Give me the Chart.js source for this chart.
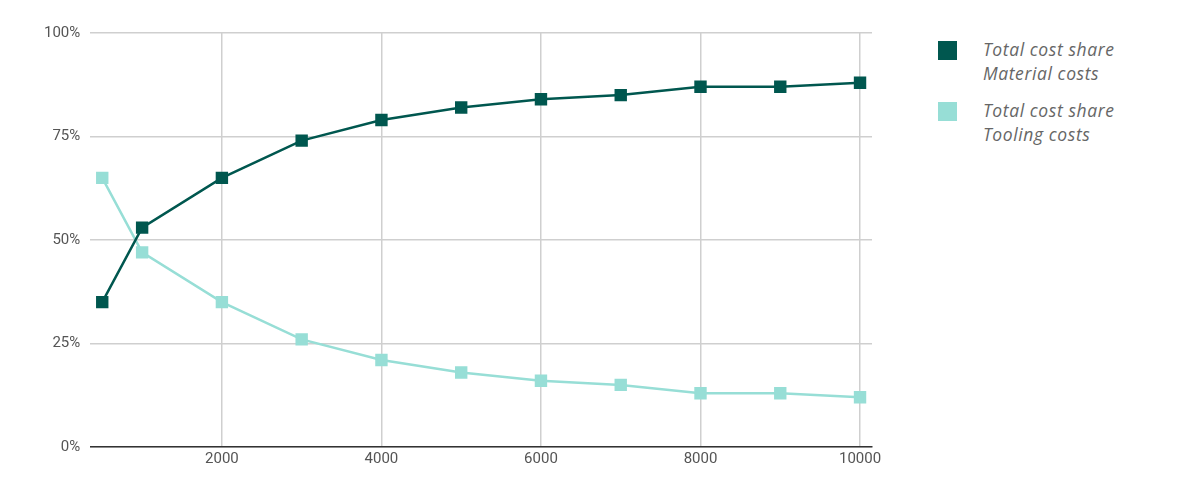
<!DOCTYPE html>
<html>
<head>
<meta charset="utf-8">
<script src="https://cdn.jsdelivr.net/npm/chart.js@4"></script>
<style>
  body { margin: 0; background: #fff; }
  #wrap { position: relative; width: 1190px; height: 499px; }
  #chartBox { position: absolute; left: 0; top: 0; width: 900px; height: 499px; }
  #legend { position: absolute; left: 938px; top: 37px; font-family: "Open Sans", sans-serif; font-style: italic; font-size: 17.5px; letter-spacing: 0.6px; color: #666; }
  .item { display: flex; align-items: flex-start; margin-bottom: 13px; line-height: 24px; }
  .swatch { width: 19px; height: 19px; margin-right: 26px; margin-top: 4px; flex: none; }
</style>
</head>
<body>
<div id="wrap">
  <div id="chartBox"><canvas id="costChart"></canvas></div>
  <div id="legend">
    <div class="item"><div class="swatch" style="background:#00574f"></div><div>Total cost share<br>Material costs</div></div>
    <div class="item"><div class="swatch" style="background:#97ded6"></div><div>Total cost share<br>Tooling costs</div></div>
  </div>
</div>
<script>
// quantities on x axis
const quantities = [500, 1000, 2000, 3000, 4000, 5000, 6000, 7000, 8000, 9000, 10000];
const materialShare = [35, 53, 65, 74, 79, 82, 84, 85, 87, 87, 88];
const toolingShare = [65, 47, 35, 26, 21, 18, 16, 15, 13, 13, 12];
const xTicks = [2000, 4000, 6000, 8000, 10000];
const yTicks = [0, 25, 50, 75, 100];

function toPoints(values) {
    return quantities.map((q, i) => ({ x: q, y: values[i] }));
}

var ctx = document.getElementById('costChart').getContext('2d');
var costChart = new Chart(ctx, {
    type: 'line',
    data: {
        datasets: [{
            label: 'Total cost share Material costs',
            data: toPoints(materialShare),
            borderColor: '#00574f',
            backgroundColor: '#00574f',
            borderWidth: 2.5,
            pointStyle: 'rect',
            pointRadius: 7,
            tension: 0
        }, {
            label: 'Total cost share Tooling costs',
            data: toPoints(toolingShare),
            borderColor: '#97ded6',
            backgroundColor: '#97ded6',
            borderWidth: 2.5,
            pointStyle: 'rect',
            pointRadius: 7,
            tension: 0
        }]
    },
    options: {
        responsive: true,
        maintainAspectRatio: false,
        animation: false,
        layout: { padding: { left: 34, right: 28, top: 33, bottom: 28 } },
        plugins: { legend: { display: false }, tooltip: { enabled: false } },
        scales: {
            x: {
                type: 'linear',
                min: 350,
                max: 10150,
                afterBuildTicks: function (axis) { axis.ticks = xTicks.map(v => ({ value: v })); },
                ticks: { color: '#555', font: { family: 'Roboto', size: 15 }, maxRotation: 0, callback: v => String(v) },
                grid: { color: '#cfcfcf', lineWidth: 1.5, drawTicks: false },
                border: { color: '#333', width: 1.5 }
            },
            y: {
                min: 0,
                max: 100,
                afterBuildTicks: function (axis) { axis.ticks = yTicks.map(v => ({ value: v })); },
                ticks: { color: '#555', font: { family: 'Roboto', size: 15 }, padding: 10, callback: v => v + '%' },
                grid: { color: '#cfcfcf', lineWidth: 1.5, drawTicks: false },
                border: { display: false }
            }
        }
    }
});
</script>
</body>
</html>
